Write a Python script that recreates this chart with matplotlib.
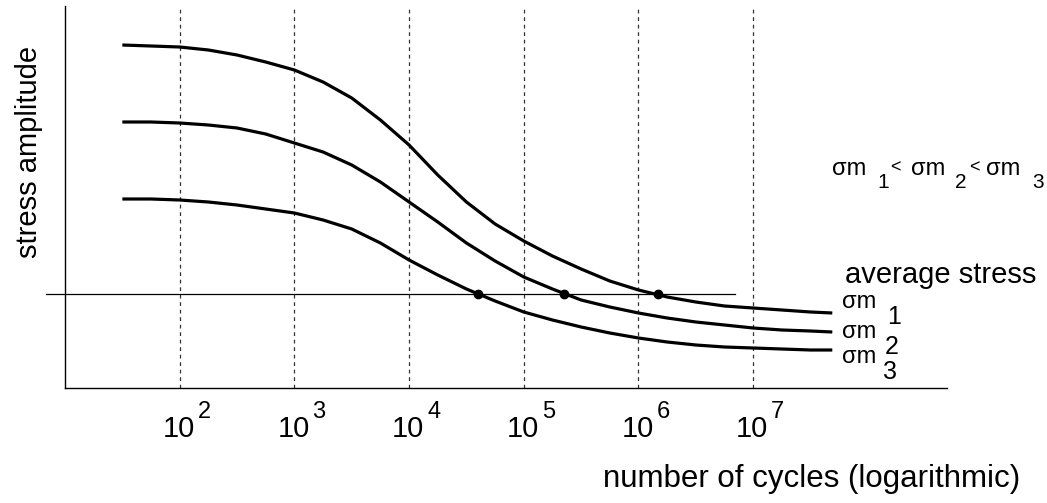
import numpy as np
import matplotlib
matplotlib.use('Agg')
import matplotlib.pyplot as plt
from matplotlib.ticker import NullLocator

plt.rcParams['font.family'] = ['Liberation Sans', 'DejaVu Sans']

# ---- data (log10 of cycles, stress amplitude in arbitrary units) ----
log_cycles = [1.5, 1.75, 2.0, 2.25, 2.5, 2.75, 3.0, 3.25, 3.5, 3.75, 4.0, 4.25, 4.5,
              4.75, 5.0, 5.25, 5.5, 5.75, 6.0, 6.25, 6.5, 6.75, 7.0, 7.25, 7.5, 7.69]
amp_m1 = [343, 342, 341, 338, 333, 326, 318, 306, 290, 268, 243, 213, 186,
          164, 147, 132, 119, 107, 98, 91, 86, 82, 80, 78, 76, 75]
amp_m2 = [266, 266, 265, 263, 260, 254, 245, 236, 223, 206, 186, 166, 145,
          127, 111, 99, 88, 81, 75, 70, 66, 63, 60, 58, 57, 56]
amp_m3 = [189, 189, 188, 186, 183, 179, 175, 168, 159, 145, 128, 113, 99,
          87, 76, 68, 61, 55, 50, 46, 43, 41, 40, 39, 38, 38]
avg_stress_level = 94
avg_line_log_span = [0.83, 6.84]
intersect_log = [4.60, 5.35, 6.17]
decades = [2, 3, 4, 5, 6, 7]
curve_names = ['1', '2', '3']

W, H = 1047, 503
fig = plt.figure(figsize=(W / 100, H / 100), dpi=100)
ax = fig.add_axes([65 / W, 1 - 388 / H, (947 - 65) / W, (388 - 6) / H])

cycles = 10 ** np.array(log_cycles)
for amp in (amp_m1, amp_m2, amp_m3):
    ax.plot(cycles, amp, color='black', lw=2.3, solid_joinstyle='round', solid_capstyle='butt')

ax.plot(10 ** np.array(avg_line_log_span), [avg_stress_level] * 2, color='black', lw=0.9, clip_on=False)
ax.plot(10 ** np.array(intersect_log), [avg_stress_level] * 3, 'o', color='black', ms=6, zorder=5)

for d in decades:
    ax.axvline(10 ** d, color='#333333', lw=0.9, ls=(0, (3, 3)), zorder=0)

ax.set_xscale('log')
ax.set_xlim(10 ** 1.0, 10 ** 8.69)
ax.set_ylim(0, 382)
for s in ('top', 'right'):
    ax.spines[s].set_visible(False)
for s in ('left', 'bottom'):
    ax.spines[s].set_linewidth(1.0)
    ax.spines[s].set_color('black')
ax.xaxis.set_minor_locator(NullLocator())
ax.set_xticks([])
ax.set_yticks([])

px2pt = 72 / 100
# decade tick labels
for d in decades:
    ax.annotate('10', xy=(10 ** d, 0), xycoords=('data', 'axes fraction'),
                xytext=(-1 * px2pt, -49 * px2pt), textcoords='offset points',
                ha='center', va='baseline', fontsize=21)
    ax.annotate(str(d), xy=(10 ** d, 0), xycoords=('data', 'axes fraction'),
                xytext=(18 * px2pt, -30 * px2pt), textcoords='offset points',
                ha='left', va='baseline', fontsize=17)


def ptext(px, py, s, **kw):
    fig.text(px / W, 1 - py / H, s, **kw)


ptext(603, 487, 'number of cycles (logarithmic)', ha='left', va='baseline', fontsize=22.5)
ptext(29, 152, 'stress amplitude', ha='center', va='center', rotation=90, fontsize=21)
ptext(845, 283, 'average stress', ha='left', va='baseline', fontsize=21)

# relation sigma_m1 < sigma_m2 < sigma_m3
rel_x = [832, 911, 986]
sub_x = [877, 955, 1032]
lt_x = [890, 969]
for i, name in enumerate(curve_names):
    ptext(rel_x[i], 175, 'σm', ha='left', va='baseline', fontsize=17)
    ptext(sub_x[i], 188, name, ha='left', va='baseline', fontsize=15)
for x in lt_x:
    ptext(x, 172, '<', ha='left', va='baseline', fontsize=13)

# curve labels
lab_base = [308, 338, 363]
lab_sub_x = [887, 885, 883]
for i, name in enumerate(curve_names):
    ptext(842, lab_base[i], 'σm', ha='left', va='baseline', fontsize=17)
    ptext(lab_sub_x[i], lab_base[i] + 16, name, ha='left', va='baseline', fontsize=18)

fig.savefig('out.png', dpi=100)
